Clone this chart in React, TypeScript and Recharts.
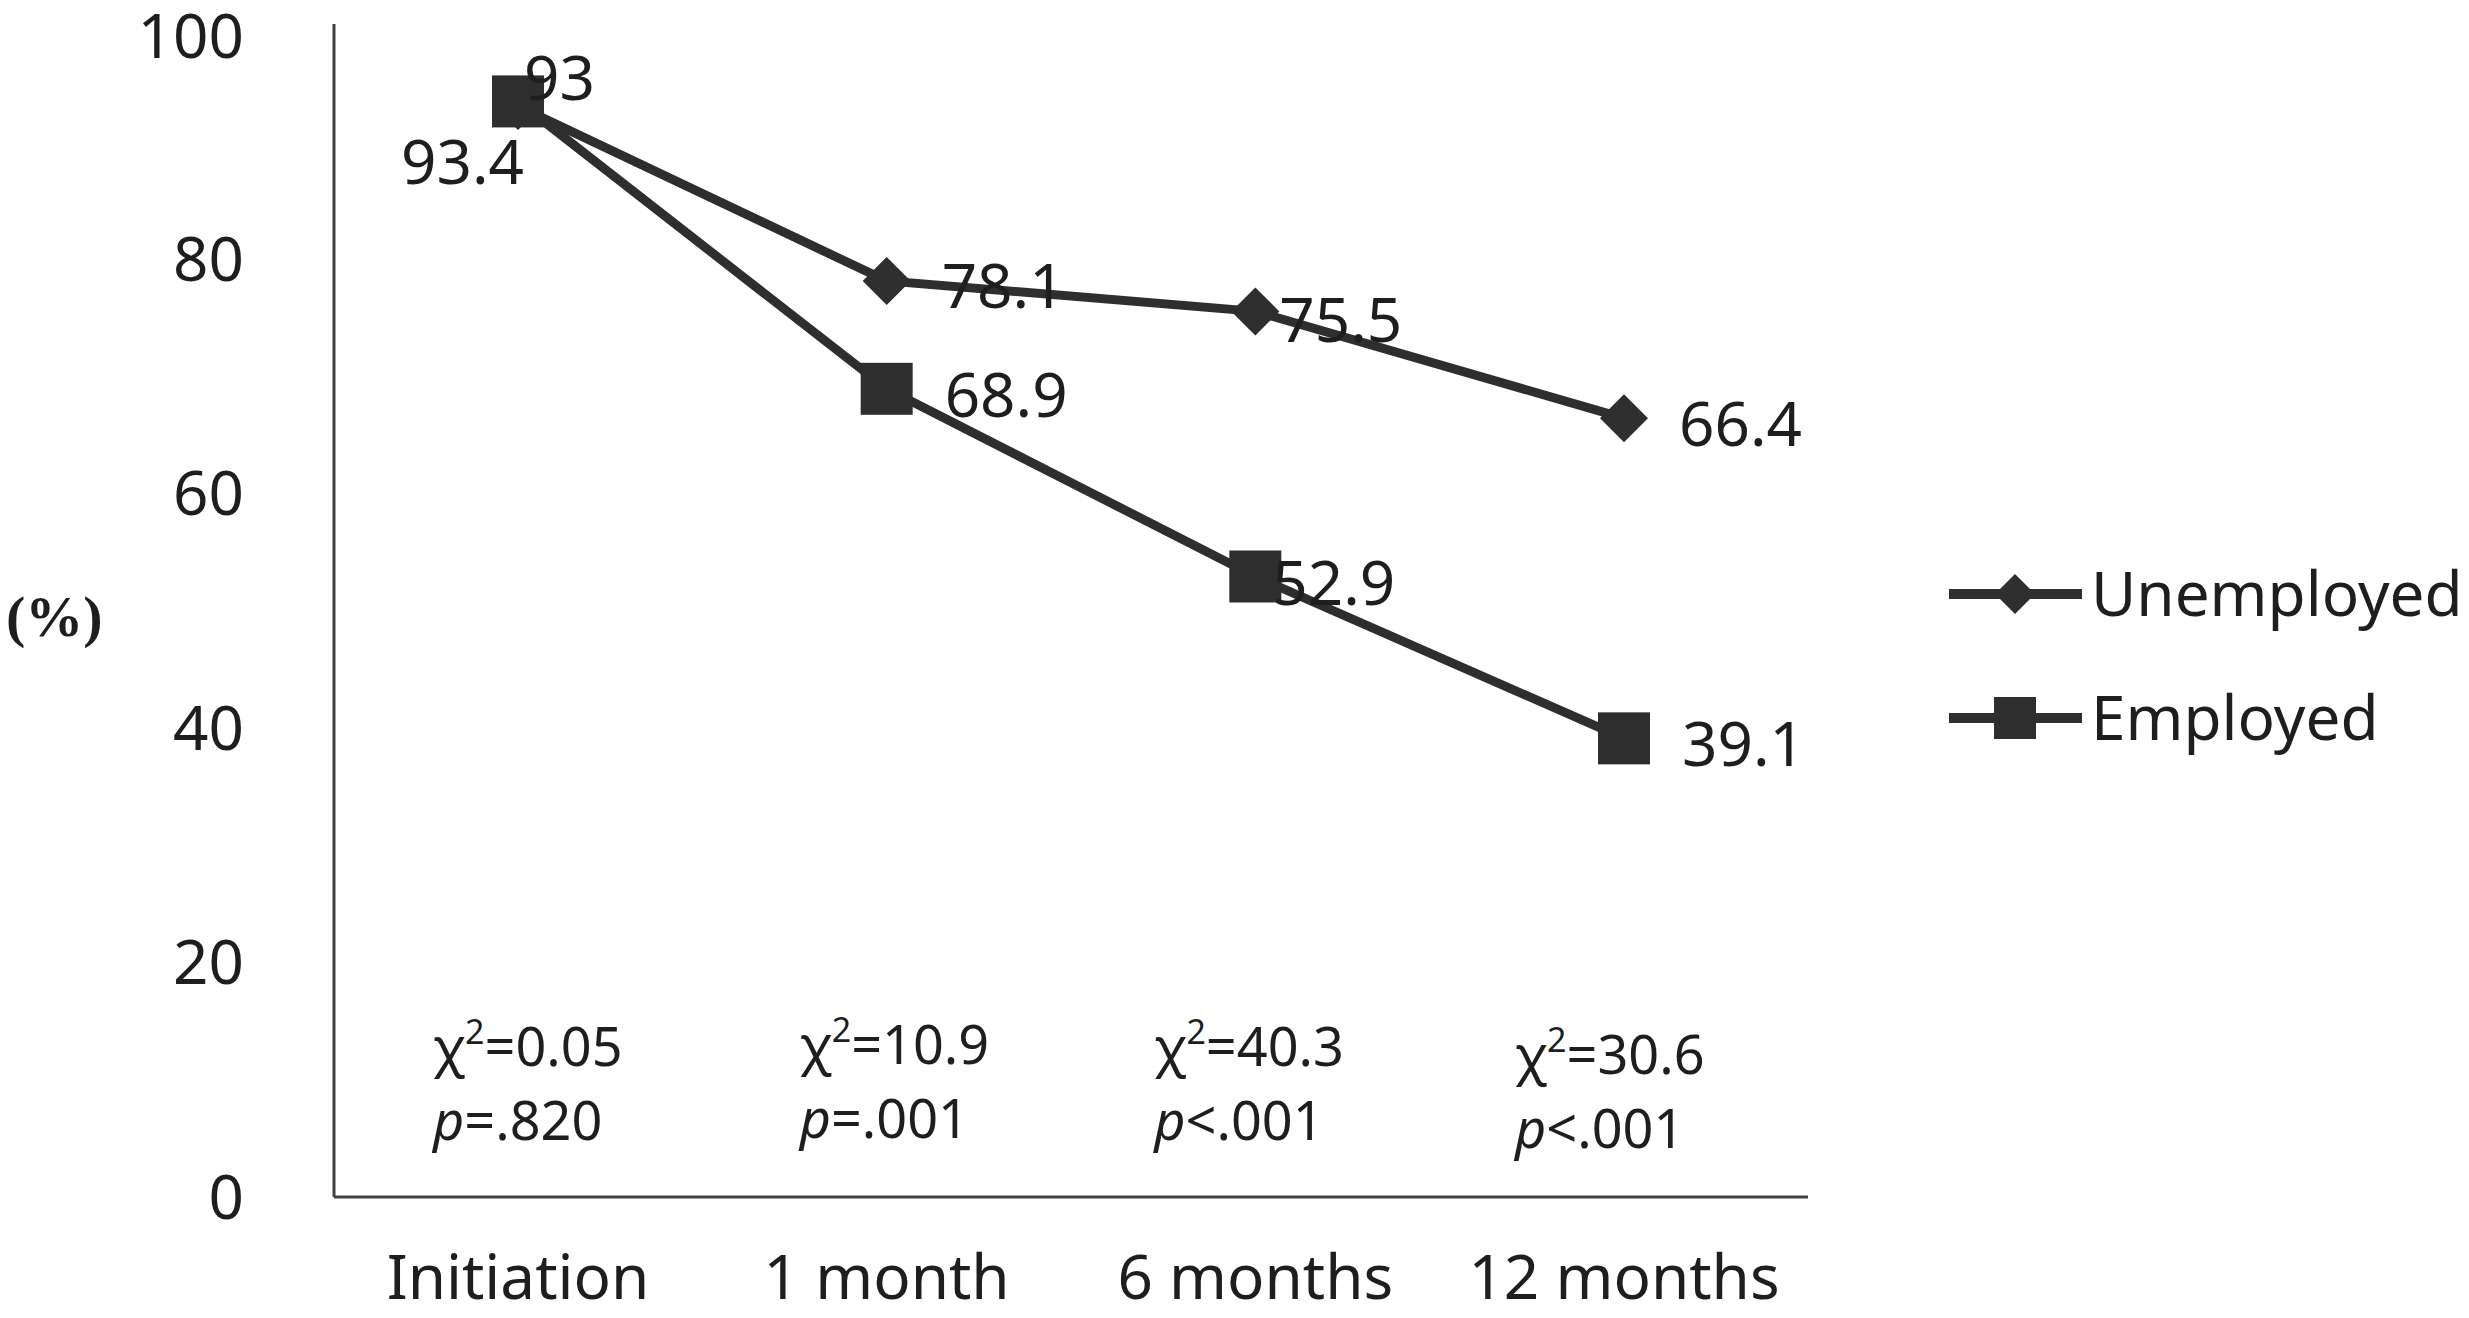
import { LineChart, Line, XAxis, YAxis, Legend, Label } from "recharts";

const periods = ["Initiation", "1 month", "6 months", "12 months"];
const unemployed = [93, 78.1, 75.5, 66.4];
const employed = [93.4, 68.9, 52.9, 39.1];
const chiSquare = ["0.05", "10.9", "40.3", "30.6"];
const pValues = ["=.820", "=.001", "<.001", "<.001"];
const yTicks = [0, 20, 40, 60, 80, 100];
const seriesOrder = ["unemployed", "employed"];

const data = periods.map((period, i) => ({
  period,
  unemployed: unemployed[i],
  employed: employed[i],
}));

// where the value labels sit relative to each point (picked off the original)
const unempLabelPos = [
  { dx: 6, dy: -28, anchor: "start" },
  { dx: 55, dy: 5, anchor: "start" },
  { dx: 24, dy: 8, anchor: "start" },
  { dx: 55, dy: 6, anchor: "start" },
];
const empLabelPos = [
  { dx: 6, dy: 60, anchor: "end" },
  { dx: 58, dy: 6, anchor: "start" },
  { dx: 17, dy: 6, anchor: "start" },
  { dx: 58, dy: 5, anchor: "start" },
];
const notePos = [
  { dx: -85, dy: 0 },
  { dx: -87, dy: -2 },
  { dx: -101, dy: 0 },
  { dx: -109, dy: 8 },
];

const INK = "#2e2e2e";
const TEXT = "#1e1e1e";
const FONT = "'Noto Sans', 'Open Sans', sans-serif";

const Diamond = ({ cx, cy, half = 24 }: any) => (
  <path d={`M${cx},${cy - half}L${cx + half},${cy}L${cx},${cy + half}L${cx - half},${cy}Z`} fill={INK} />
);

const Square = ({ cx, cy, side = 52 }: any) => (
  <rect x={cx - side / 2} y={cy - side / 2} width={side} height={side} fill={INK} />
);

const makeLabel = (pos: { dx: number; dy: number; anchor: string }[]) => (props: any) => {
  const { x, y, value, index } = props;
  const p = pos[index];
  return (
    <text
      x={x + p.dx}
      y={y + p.dy}
      dy="0.36em"
      textAnchor={p.anchor}
      fontSize={62}
      fontFamily={FONT}
      fill={TEXT}
    >
      {value}
    </text>
  );
};

function PeriodTick({ x, y, payload }: any) {
  const i = payload.index;
  const n = notePos[i];
  return (
    <g fontFamily={FONT} fill={TEXT}>
      <text x={x + n.dx} y={y - 131 + n.dy} fontSize={54}>
        χ
        <tspan dy={-22} fontSize={34}>2</tspan>
        <tspan dy={22} fontSize={54}>={chiSquare[i]}</tspan>
      </text>
      <text x={x + n.dx} y={y - 57 + n.dy} fontSize={54}>
        <tspan fontStyle="italic">p</tspan>
        {pValues[i]}
      </text>
      <text x={x} y={y + 102} textAnchor="middle" fontSize={62}>
        {payload.value}
      </text>
    </g>
  );
}

function LegendContent({ payload }: any) {
  const items = [...(payload || [])].sort(
    (a: any, b: any) => seriesOrder.indexOf(a.dataKey) - seriesOrder.indexOf(b.dataKey)
  );
  return (
    <svg width={520} height={240}>
      {items.map((item: any, i: number) => {
        const cy = 54 + i * 124;
        return (
          <g key={item.value}>
            <line x1={0} x2={133} y1={cy} y2={cy} stroke={INK} strokeWidth={10} />
            {item.dataKey === "employed" ? (
              <Square cx={66} cy={cy} side={42} />
            ) : (
              <Diamond cx={66} cy={cy} half={20} />
            )}
            <text x={142} y={cy} dy="0.36em" fontSize={62} fontFamily={FONT} fill={TEXT}>
              {item.value}
            </text>
          </g>
        );
      })}
    </svg>
  );
}

export default function App() {
  return (
    <div style={{ position: "absolute", left: 0, top: 0, background: "#fff" }}>
      <LineChart
        width={2469}
        height={1318}
        data={data}
        margin={{ top: 24, right: 661, bottom: 0, left: 0 }}
      >
        <XAxis
          dataKey="period"
          interval={0}
          padding={{ left: 184, right: 184 }}
          axisLine={{ stroke: "#404040", strokeWidth: 3 }}
          tickLine={false}
          tickSize={0}
          tickMargin={0}
          height={121}
          tick={<PeriodTick />}
        />
        <YAxis
          domain={[0, 100]}
          ticks={yTicks}
          width={334}
          axisLine={{ stroke: "#404040", strokeWidth: 3 }}
          tickLine={false}
          tickSize={0}
          tickMargin={90}
          tick={{ fontSize: 62, fill: TEXT, fontFamily: FONT }}
        >
          <Label
            value="(%)"
            position="insideLeft"
            offset={6}
            dy={5}
            style={{ fontFamily: "'Liberation Serif', 'DejaVu Serif', serif", fontWeight: "bold", fontSize: 58, fill: TEXT }}
          />
        </YAxis>
        <Legend
          layout="vertical"
          align="center"
          verticalAlign="middle"
          wrapperStyle={{ left: 1949, top: 540, width: 520 }}
          content={<LegendContent />}
        />
        <Line
          name="Unemployed"
          dataKey="unemployed"
          stroke={INK}
          strokeWidth={9}
          dot={<Diamond />}
          activeDot={false}
          label={makeLabel(unempLabelPos)}
          isAnimationActive={false}
        />
        <Line
          name="Employed"
          dataKey="employed"
          stroke={INK}
          strokeWidth={9}
          dot={<Square />}
          activeDot={false}
          label={makeLabel(empLabelPos)}
          isAnimationActive={false}
        />
      </LineChart>
    </div>
  );
}
